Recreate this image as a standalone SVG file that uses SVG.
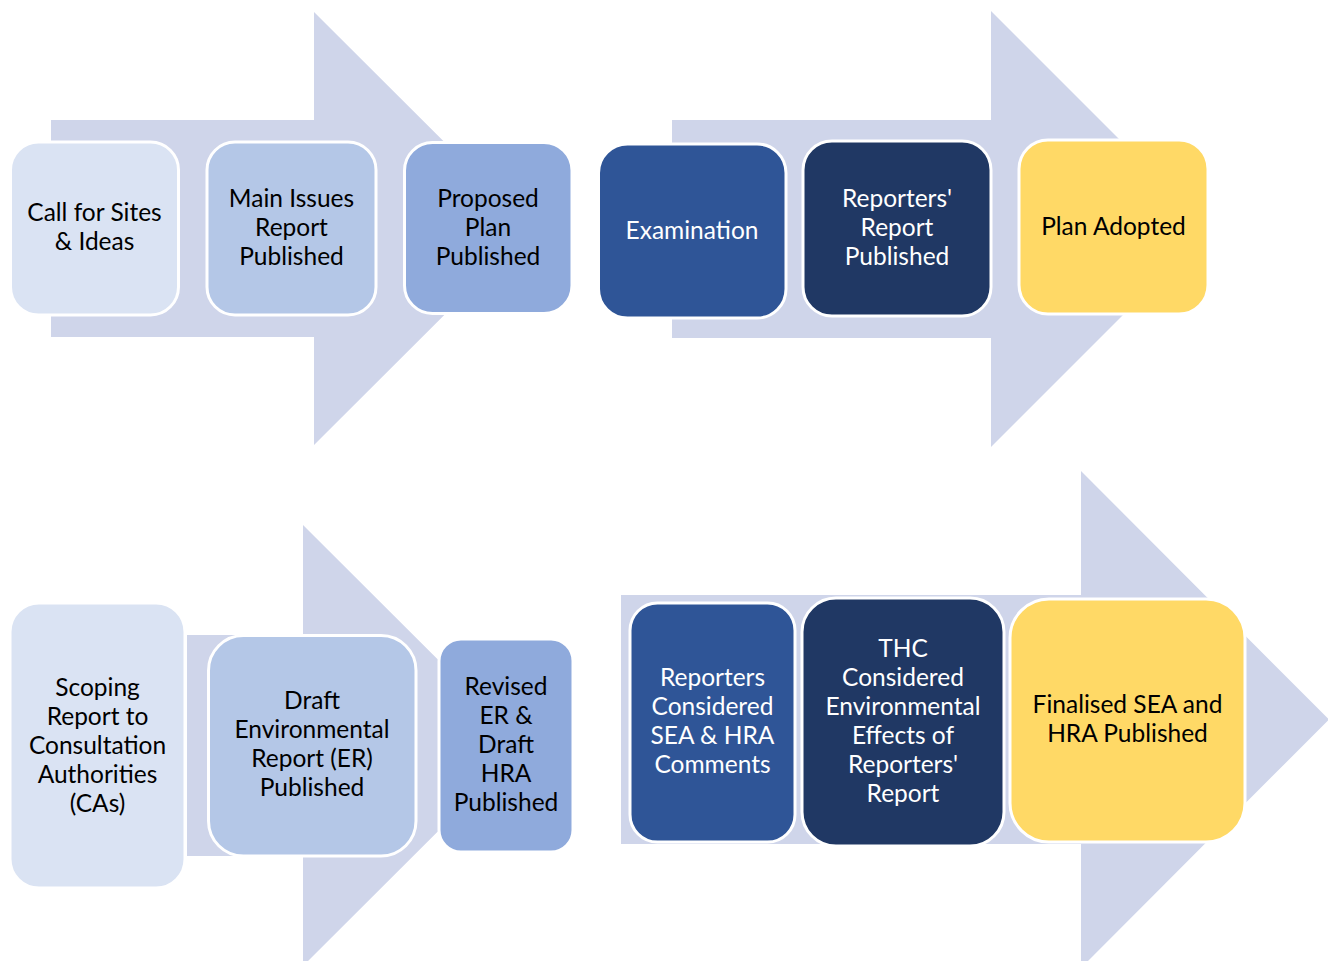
<svg xmlns="http://www.w3.org/2000/svg" width="1328" height="961" viewBox="0 0 1328 961">
<style>
.arrow{fill:#CFD5EA;}
.box{stroke:#FFFFFF;stroke-width:3;}
.c1{fill:#DAE3F3;}
.c2{fill:#B4C7E7;}
.c3{fill:#8FAADC;}
.c4{fill:#2F5597;}
.c5{fill:#203864;}
.c6{fill:#FFD966;}
text{font-family:Lato,"Liberation Sans",sans-serif;font-size:24.5px;text-anchor:middle;}
.dk{fill:#000000;}
.lt{fill:#FFFFFF;}
</style>
<rect width="1328" height="961" fill="#FFFFFF"/>
<g id="connectors">
<polygon class="arrow" points="51,120 314,120 314,12 531,228.5 314,445 314,337 51,337"/>
<polygon class="arrow" points="672,120 991,120 991,11 1209,229 991,447 991,338 672,338"/>
<polygon class="arrow" points="187,635 303,635 303,525 524,745.5 303,966 303,856 187,856"/>
<polygon class="arrow" points="621,595 1081,595 1081,471 1329,719.5 1081,968 1081,844 621,844"/>
</g>
<g id="n1"><rect class="box c1" x="10.5" y="142" width="168" height="173" rx="28"/>
<text class="dk" x="94.5" y="221">Call for Sites</text><text class="dk" x="94.5" y="250">&amp; Ideas</text></g>
<g id="n2"><rect class="box c2" x="207" y="142" width="169" height="173" rx="28"/>
<text class="dk" x="291.5" y="207">Main Issues</text><text class="dk" x="291.5" y="236">Report</text><text class="dk" x="291.5" y="265">Published</text></g>
<g id="n3"><rect class="box c3" x="404.5" y="142.5" width="167.5" height="171" rx="28"/>
<text class="dk" x="488" y="207">Proposed</text><text class="dk" x="488" y="236">Plan</text><text class="dk" x="488" y="265">Published</text></g>
<g id="n4"><rect class="box c4" x="598.5" y="144" width="187.5" height="174" rx="29"/>
<text class="lt" x="692" y="239">Examination</text></g>
<g id="n5"><rect class="box c5" x="803" y="141" width="188" height="175" rx="29"/>
<text class="lt" x="897" y="207">Reporters'</text><text class="lt" x="897" y="236">Report</text><text class="lt" x="897" y="265">Published</text></g>
<g id="n6"><rect class="box c6" x="1019" y="140" width="189" height="174" rx="29"/>
<text class="dk" x="1113.5" y="235">Plan Adopted</text></g>
<g id="n7"><rect class="box c1" x="10" y="603" width="175" height="285" rx="29"/>
<text class="dk" x="97.5" y="696">Scoping</text><text class="dk" x="97.5" y="725">Report to</text><text class="dk" x="97.5" y="754">Consultation</text><text class="dk" x="97.5" y="783">Authorities</text><text class="dk" x="97.5" y="812">(CAs)</text></g>
<g id="n8"><rect class="box c2" x="208.5" y="635.5" width="207.5" height="220.5" rx="35"/>
<text class="dk" x="312" y="709">Draft</text><text class="dk" x="312" y="738">Environmental</text><text class="dk" x="312" y="767">Report (ER)</text><text class="dk" x="312" y="796">Published</text></g>
<g id="n9"><rect class="box c3" x="439" y="639" width="134" height="213" rx="22"/>
<text class="dk" x="506" y="695">Revised</text><text class="dk" x="506" y="724">ER &amp;</text><text class="dk" x="506" y="753">Draft</text><text class="dk" x="506" y="782">HRA</text><text class="dk" x="506" y="811">Published</text></g>
<g id="n10"><rect class="box c4" x="630" y="603" width="165" height="239" rx="27.5"/>
<text class="lt" x="712.5" y="686">Reporters</text><text class="lt" x="712.5" y="715">Considered</text><text class="lt" x="712.5" y="744">SEA &amp; HRA</text><text class="lt" x="712.5" y="773">Comments</text></g>
<g id="n11"><rect class="box c5" x="802" y="598" width="202" height="248" rx="34"/>
<text class="lt" x="903" y="657">THC</text><text class="lt" x="903" y="686">Considered</text><text class="lt" x="903" y="715">Environmental</text><text class="lt" x="903" y="744">Effects of</text><text class="lt" x="903" y="773">Reporters'</text><text class="lt" x="903" y="802">Report</text></g>
<g id="n12"><rect class="box c6" x="1010" y="599" width="235" height="243" rx="39"/>
<text class="dk" x="1127.5" y="713">Finalised SEA and</text><text class="dk" x="1127.5" y="742">HRA Published</text></g>
</svg>
